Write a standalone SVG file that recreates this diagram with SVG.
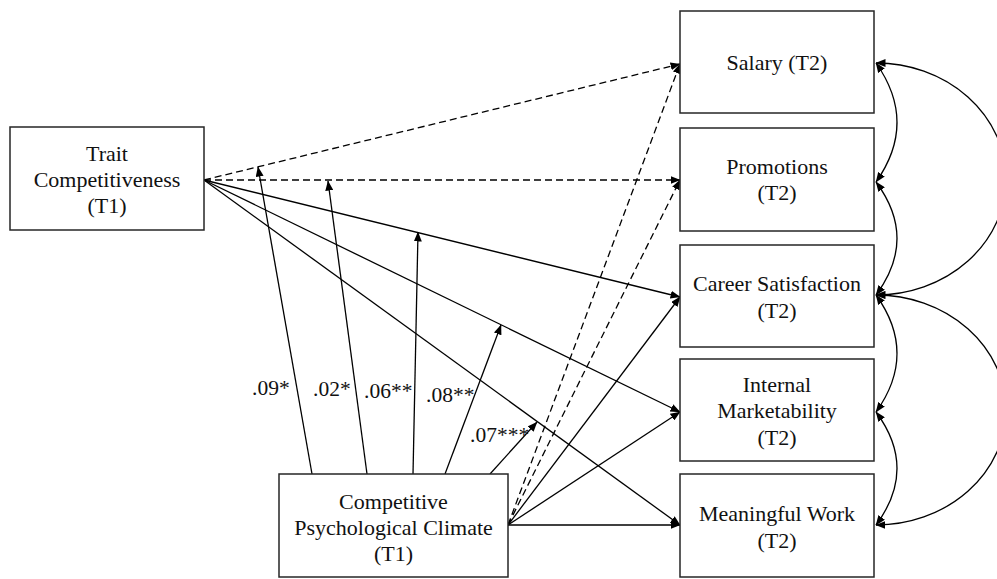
<svg xmlns="http://www.w3.org/2000/svg" width="997" height="579" viewBox="0 0 997 579">
<style>
.box{fill:#fff;stroke:#262626;stroke-width:1.5}
.t{font-family:"Liberation Serif","Times New Roman",serif;font-size:22px;fill:#111;text-anchor:middle}
.lab{font-family:"Liberation Serif","Times New Roman",serif;font-size:21.5px;fill:#111}
.ln{fill:none;stroke:#000;stroke-width:1.3}
.d{stroke-dasharray:7 4}
.a{marker-end:url(#ah)}
.aa{marker-start:url(#ah);marker-end:url(#ah)}
</style>
<defs>
<marker id="ah" markerUnits="userSpaceOnUse" markerWidth="10" markerHeight="8" refX="9.5" refY="4" orient="auto-start-reverse">
<path d="M0,0 L10,4 L0,8 z" fill="#000"/>
</marker>
</defs>
<rect width="997" height="579" fill="#fff"/>
<g id="connectors">
<path class="ln d a" d="M204,180 L680,64"/>
<path class="ln d a" d="M204,180 L680,180"/>
<path class="ln a" d="M204,180 L680,297"/>
<path class="ln a" d="M204,180 L680,412"/>
<path class="ln a" d="M204,180 L680,525"/>
<path class="ln d a" d="M508,525 L680,64"/>
<path class="ln d a" d="M508,525 L680,180"/>
<path class="ln a" d="M508,525 L680,297"/>
<path class="ln a" d="M508,525 L680,412"/>
<path class="ln a" d="M508,525 L680,525"/>
<path class="ln a" d="M312,474 L258,167"/>
<path class="ln a" d="M367,474 L328,181"/>
<path class="ln a" d="M413,474 L418,232"/>
<path class="ln a" d="M445,474 L501,325"/>
<path class="ln a" d="M490,474 L537,422"/>
<path class="ln aa" d="M876,63 Q918,122.5 876,182"/>
<path class="ln aa" d="M876,182 Q918,238.5 876,295"/>
<path class="ln aa" d="M876,295 Q918,353.5 876,412"/>
<path class="ln aa" d="M876,412 Q918,468.5 876,525"/>
<path class="ln aa" d="M876,63 A130,116 0 0 1 876,295"/>
<path class="ln aa" d="M876,295 A130,115 0 0 1 876,525"/>
</g>
<g id="labels">
<text class="lab" x="252" y="395">.09*</text>
<text class="lab" x="313" y="396">.02*</text>
<text class="lab" x="364" y="398">.06**</text>
<text class="lab" x="426" y="402">.08**</text>
<text class="lab" x="470" y="442">.07***</text>
</g>
<g id="trait">
<rect class="box" x="10" y="127" width="194" height="103"/>
<text class="t" x="107" y="161">Trait</text>
<text class="t" x="107" y="187">Competitiveness</text>
<text class="t" x="107" y="213">(T1)</text>
</g>
<g id="cpc">
<rect class="box" x="279" y="474" width="229" height="103"/>
<text class="t" x="393.5" y="509">Competitive</text>
<text class="t" x="393.5" y="535">Psychological Climate</text>
<text class="t" x="393.5" y="561">(T1)</text>
</g>
<g id="salary">
<rect class="box" x="680" y="11" width="194" height="102"/>
<text class="t" x="777" y="70">Salary (T2)</text>
</g>
<g id="promotions">
<rect class="box" x="680" y="128" width="194" height="103"/>
<text class="t" x="777" y="174">Promotions</text>
<text class="t" x="777" y="200">(T2)</text>
</g>
<g id="career">
<rect class="box" x="680" y="245" width="194" height="102"/>
<text class="t" x="777" y="291">Career Satisfaction</text>
<text class="t" x="777" y="318">(T2)</text>
</g>
<g id="internal">
<rect class="box" x="680" y="359" width="194" height="102"/>
<text class="t" x="777" y="392">Internal</text>
<text class="t" x="777" y="418">Marketability</text>
<text class="t" x="777" y="445">(T2)</text>
</g>
<g id="meaningful">
<rect class="box" x="680" y="474" width="194" height="103"/>
<text class="t" x="777" y="521">Meaningful Work</text>
<text class="t" x="777" y="548">(T2)</text>
</g>
</svg>
